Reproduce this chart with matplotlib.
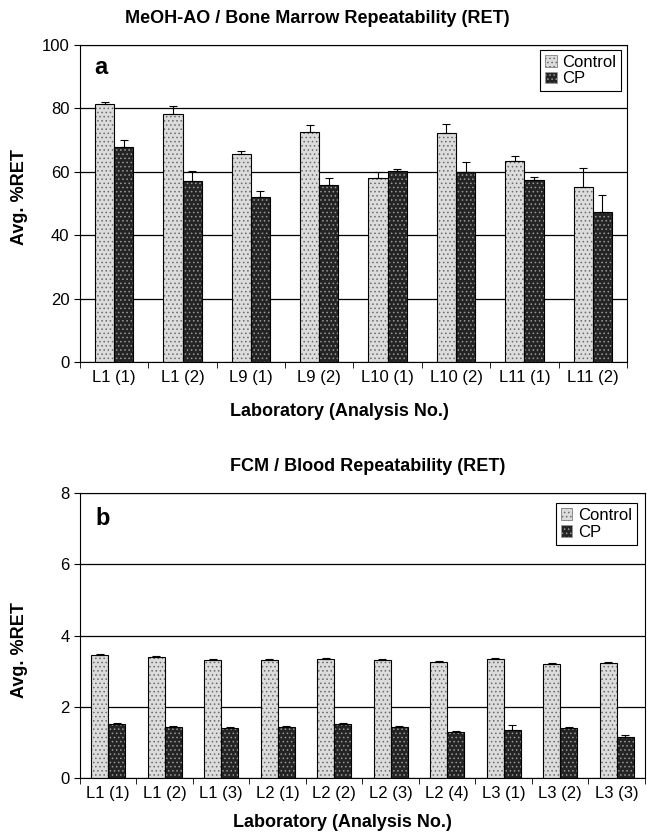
import matplotlib
matplotlib.use('Agg')
import matplotlib.pyplot as plt
import numpy as np
from matplotlib.patches import Patch

plt.rcParams['font.family'] = ['Liberation Sans', 'DejaVu Sans']
plt.rcParams['hatch.linewidth'] = 0.6

# panel a: MeOH-AO / bone marrow
labels_a = ['L1 (1)', 'L1 (2)', 'L9 (1)', 'L9 (2)', 'L10 (1)', 'L10 (2)', 'L11 (1)', 'L11 (2)']
control_a = [81.5, 78.1, 65.5, 72.5, 58.2, 72.2, 63.5, 55.3]
control_a_err = [0.6, 2.5, 1.0, 2.2, 1.8, 2.8, 1.5, 6.0]
cp_a = [67.8, 57.1, 52.1, 55.7, 60.2, 60.0, 57.4, 47.4]
cp_a_err = [2.3, 3.0, 2.0, 2.2, 0.6, 3.0, 1.0, 5.2]

# panel b: FCM / blood
labels_b = ['L1 (1)', 'L1 (2)', 'L1 (3)', 'L2 (1)', 'L2 (2)', 'L2 (3)', 'L2 (4)', 'L3 (1)', 'L3 (2)', 'L3 (3)']
control_b = [3.45, 3.41, 3.31, 3.31, 3.35, 3.32, 3.27, 3.33, 3.21, 3.24]
control_b_err = [0.02, 0.02, 0.02, 0.02, 0.02, 0.02, 0.02, 0.05, 0.02, 0.02]
cp_b = [1.51, 1.44, 1.40, 1.44, 1.51, 1.42, 1.30, 1.36, 1.40, 1.14]
cp_b_err = [0.03, 0.03, 0.03, 0.03, 0.03, 0.03, 0.03, 0.12, 0.03, 0.08]

CTRL_FACE, CTRL_DOT = '#dcdcdc', '#6a6a6a'
CP_FACE, CP_DOT = '#242424', '#9a9a9a'


def draw_panel(ax, labels, control, control_err, cp, cp_err, ymax, ystep, width, letter):
    x = np.arange(len(labels))
    # textured fill, then black outline on top
    ax.bar(x - width / 2, control, width, color=CTRL_FACE, edgecolor=CTRL_DOT, hatch='....', linewidth=0, zorder=2)
    ax.bar(x + width / 2, cp, width, color=CP_FACE, edgecolor=CP_DOT, hatch='....', linewidth=0, zorder=2)
    ax.bar(x - width / 2, control, width, fill=False, edgecolor='black', linewidth=0.8, zorder=3)
    ax.bar(x + width / 2, cp, width, fill=False, edgecolor='black', linewidth=0.8, zorder=3)
    ax.errorbar(x - width / 2, control, yerr=[np.zeros(len(x)), control_err], fmt='none',
                ecolor='black', elinewidth=0.8, capsize=3, capthick=0.8, zorder=4)
    ax.errorbar(x + width / 2, cp, yerr=[np.zeros(len(x)), cp_err], fmt='none',
                ecolor='black', elinewidth=0.8, capsize=3, capthick=0.8, zorder=4)

    ax.set_xlim(-0.5, len(labels) - 0.5)
    ax.set_ylim(0, ymax)
    ax.set_yticks(np.arange(0, ymax + ystep / 2, ystep))
    ax.yaxis.grid(True, color='black', linewidth=0.9)
    ax.set_axisbelow(True)
    ax.set_xticks(x)
    ax.set_xticklabels(labels, fontsize=12)
    ax.set_xticks(np.arange(-0.5, len(labels), 1), minor=True)
    ax.tick_params(axis='x', which='major', length=0, pad=6)
    ax.tick_params(axis='x', which='minor', length=4, direction='out')
    ax.tick_params(axis='y', length=4, direction='out', labelsize=12)
    for s in ax.spines.values():
        s.set_linewidth(0.8)
    ax.set_ylabel('Avg. %RET', fontsize=13, fontweight='bold')
    ax.text(0.027, 0.93 if letter == 'a' else 0.91, letter, transform=ax.transAxes,
            fontsize=17, fontweight='bold', va='center', ha='left')


fig = plt.figure(figsize=(6.47, 8.39), dpi=100)

ax1 = fig.add_axes([0.1236, 0.5685, 0.8454, 0.3779])
draw_panel(ax1, labels_a, control_a, control_a_err, cp_a, cp_a_err, 100, 20, 0.28, 'a')
ax1.yaxis.set_label_coords(-0.095, 0.52)
fig.text(0.49, 0.978, 'MeOH-AO / Bone Marrow Repeatability (RET)', fontsize=13,
         fontweight='bold', ha='center', va='center')
fig.text(0.525, 0.509, 'Laboratory (Analysis No.)', fontsize=13, fontweight='bold',
         ha='center', va='center')

ax2 = fig.add_axes([0.1236, 0.0727, 0.8733, 0.3397])
draw_panel(ax2, labels_b, control_b, control_b_err, cp_b, cp_b_err, 8, 2, 0.30, 'b')
ax2.yaxis.set_label_coords(-0.092, 0.45)
fig.text(0.569, 0.4434, 'FCM / Blood Repeatability (RET)', fontsize=13,
         fontweight='bold', ha='center', va='center')
fig.text(0.53, 0.02, 'Laboratory (Analysis No.)', fontsize=13, fontweight='bold',
         ha='center', va='center')

handles = [Patch(facecolor=CTRL_FACE, edgecolor=CTRL_DOT, hatch='....', linewidth=0.5),
           Patch(facecolor=CP_FACE, edgecolor=CP_DOT, hatch='....', linewidth=0.5)]
for ax, anchor in ((ax1, (0.99, 0.985)), (ax2, (0.986, 0.965))):
    leg = ax.legend(handles, ['Control', 'CP'], loc='upper right', bbox_to_anchor=anchor,
                    borderaxespad=0, fontsize=12, fancybox=False, framealpha=1,
                    handlelength=0.7, handleheight=0.7, handletextpad=0.35,
                    labelspacing=0.1, borderpad=0.3)
    leg.get_frame().set_edgecolor('black')
    leg.get_frame().set_linewidth(0.8)

fig.savefig('out.png', dpi=100)
plt.close(fig)
